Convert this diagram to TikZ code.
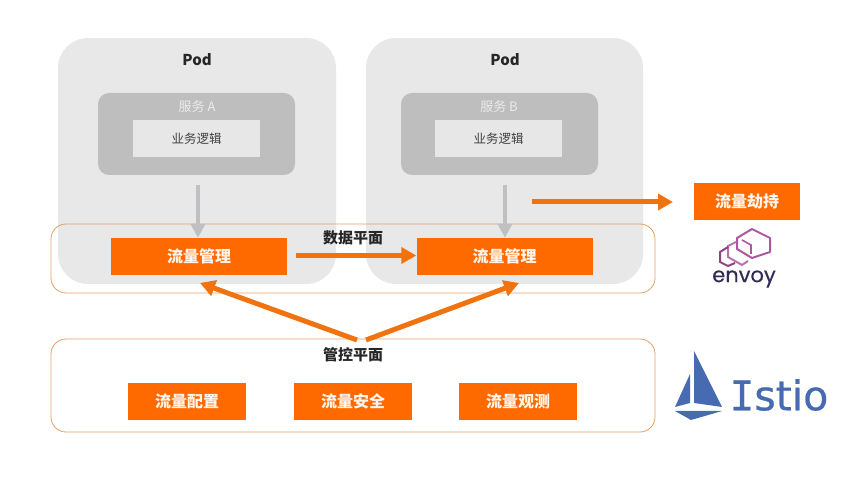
\documentclass[tikz,border=0pt]{standalone}
\usepackage{fontspec}
\setmainfont{Noto Sans CJK SC}
\newfontfamily\istiofont[FakeBold=0.6]{DejaVu Sans}
\newfontfamily\istioserif[FakeBold=0.6]{DejaVu Sans Mono}
\newfontfamily\envoyfont[FakeBold=0.4]{Poppins}
\usepackage{xcolor}
\usetikzlibrary{arrows.meta}
\definecolor{podgray}{RGB}{232,232,233}
\definecolor{svcgray}{RGB}{190,190,191}
\definecolor{bizgray}{RGB}{231,231,232}
\definecolor{flowor}{RGB}{255,106,0}
\definecolor{lineor}{RGB}{226,160,105}
\definecolor{arrowor}{RGB}{240,115,15}
\definecolor{arrowgr}{RGB}{192,192,194}
\definecolor{istioblue}{RGB}{70,107,176}
\definecolor{envoypk}{RGB}{172,88,160}
\definecolor{envoytx}{RGB}{50,44,84}
\tikzset{
  podbox/.style={fill=podgray,rounded corners=30pt,inner sep=0pt},
  svcbox/.style={fill=svcgray,rounded corners=11pt,inner sep=0pt},
  bizbox/.style={fill=bizgray,inner sep=0pt,font=\fontsize{12.5}{12.5}\selectfont,text=black!75},
  flowbox/.style={fill=flowor,inner sep=0pt,text=white!93!flowor,font=\bfseries\fontsize{16}{16}\selectfont},
  planebox/.style={draw=lineor,line width=0.8pt,rounded corners=15pt,inner sep=0pt},
  flowarrow/.style={draw=arrowor,line width=5pt,-{Triangle[length=15pt,width=16pt]}},
  grayarrow/.style={draw=arrowgr,line width=4.5pt,-{Triangle[length=14pt,width=14pt]}},
  titletext/.style={inner sep=0pt,font=\bfseries\fontsize{15}{15}\selectfont,text=black!85},
  svctext/.style={inner sep=0pt,text=white!92!black,font=\fontsize{13}{13}\selectfont}
}
\begin{document}
\begin{tikzpicture}[x=1pt,y=-1pt]
        \useasboundingbox (0,0) rectangle (847,478);
        %Shape: Pods
        \node [podbox,minimum width=278pt,minimum height=246pt] (podA) at (197,161) {};
        \node [podbox,minimum width=277pt,minimum height=246pt] (podB) at (504.5,161) {};
        \node [titletext] (podAtitle) at (197,60) {Pod};
        \node [titletext] (podBtitle) at (505,60) {Pod};
        %Shape: Services
        \node [svcbox,minimum width=197pt,minimum height=82pt] (svcA) at (196.5,134) {};
        \node [svcbox,minimum width=197pt,minimum height=82pt] (svcB) at (499.5,134) {};
        \node [svctext] (svcAtitle) at (197,107) {服务 A};
        \node [svctext] (svcBtitle) at (499,107) {服务 B};
        \node [bizbox,minimum width=127pt,minimum height=37pt] (bizA) at (196.5,138.5) {业务逻辑};
        \node [bizbox,minimum width=127pt,minimum height=37pt] (bizB) at (498.5,138.5) {业务逻辑};
        %Shape: Planes
        \node [planebox,minimum width=604pt,minimum height=69pt] (dataplane) at (353,258.5) {};
        \node [planebox,minimum width=604pt,minimum height=93pt] (ctrlplane) at (353,385.5) {};
        \node [titletext] (datatitle) at (353,238) {数据平面};
        \node [titletext] (ctrltitle) at (353,355) {管控平面};
        %Shape: Orange boxes
        \node [flowbox,minimum width=176pt,minimum height=37pt] (flowA) at (199,256.5) {流量管理};
        \node [flowbox,minimum width=176pt,minimum height=37pt] (flowB) at (504.5,256.5) {流量管理};
        \node [flowbox,minimum width=118pt,minimum height=37pt] (cfg) at (187,401.5) {流量配置};
        \node [flowbox,minimum width=118pt,minimum height=37pt] (sec) at (353,401.5) {流量安全};
        \node [flowbox,minimum width=118pt,minimum height=37pt] (obs) at (518,401.5) {流量观测};
        \node [flowbox,minimum width=106pt,minimum height=37pt] (hijack) at (747,201.5) {流量劫持};
        %Arrows
        \coordinate (grayA) at (198,185);
        \coordinate (grayB) at (505,185);
        \coordinate (hijackstart) at (532,202);
        \coordinate (ctrlL) at (357,340);
        \coordinate (ctrlR) at (366,340);
        \coordinate (flowAtip) at (200,283);
        \coordinate (flowBtip) at (519,283);
        \draw [grayarrow] (grayA) -- (flowA.north -| grayA);
        \draw [grayarrow] (grayB) -- (flowB.north -| grayB);
        \draw [flowarrow] (flowA.east) ++(9,-1) coordinate (dataL) -- (flowB.west |- dataL);
        \draw [flowarrow] (hijackstart) -- ++(141,0) coordinate (hijackend);
        \draw [flowarrow] (ctrlL) -- (flowAtip);
        \draw [flowarrow] (ctrlR) -- (flowBtip);
        %Shape: envoy
        \draw [envoypk,line width=2pt,line join=round] (752,229) -- (770,238) -- (770,252) -- (752,258) -- (737,249) -- (737,238) -- cycle ;
        \draw [envoypk,line width=1.6pt] (742,240) -- (751,245) -- (751,254) ;
        \draw [envoypk!85,line width=2pt] (736,242) -- (728,246) -- (728,257) -- (742,265) -- (748,261) ;
        \draw [envoypk!80!black,line width=2pt] (728,247) -- (720,252) -- (720,262) -- (728,266) -- (735,263) ;
        \node [inner sep=0pt,text=envoytx,font=\envoyfont\fontsize{21}{21}\selectfont] (envoylabel) at (744,279) {envoy};
        %Shape: Istio
        \fill [istioblue] (694,351) -- (722,407) -- (694,403) -- cycle ;
        \fill [istioblue] (690,374) -- (690,403) -- (675,407) -- cycle ;
        \fill [istioblue] (675,411) -- (722,411) -- (691,420) -- cycle ;
        \node [inner sep=0pt,text=istioblue,font=\istiofont\fontsize{41}{41}\selectfont] (istiolabel) at (779,395) {{\istioserif I}stio};
\end{tikzpicture}
\end{document}
